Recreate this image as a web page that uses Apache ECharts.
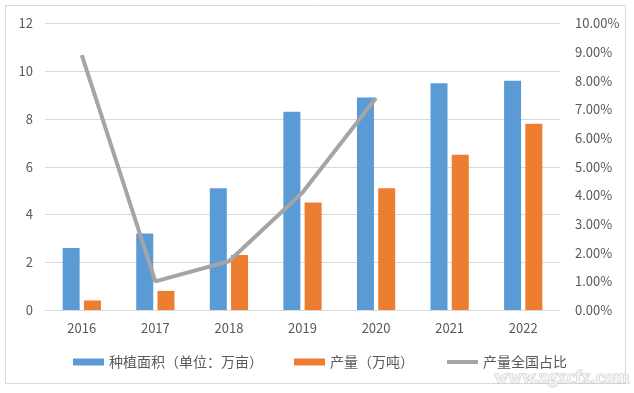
<!DOCTYPE html>
<html><head><meta charset="utf-8">
<script src="https://cdn.jsdelivr.net/npm/echarts@6/dist/echarts.min.js"></script>
<style>html,body{margin:0;padding:0;background:#fff}#c{width:634px;height:393px}</style>
</head><body><div id="c"></div>
<script>
var categories = ['2016','2017','2018','2019','2020','2021','2022'];
var areaValues = [2.6, 3.2, 5.1, 8.3, 8.9, 9.5, 9.6];
var outputValues = [0.4, 0.8, 2.3, 4.5, 5.1, 6.5, 7.8];
var shareValues = [8.9, 1.0, 1.7, 4.1, 7.4, null, null];
var seriesNames = ['种植面积（单位：万亩）', '产量（万吨）', '产量全国占比'];

var chart = echarts.init(document.getElementById('c'), null, {renderer:'canvas'});
var txt = '#595959';
var font = '"Microsoft YaHei","Noto Sans CJK SC",sans-serif';
chart.setOption({
  animation:false,
  textStyle:{fontFamily:font},
  graphic:[
    {type:'rect', shape:{x:5.5,y:5.5,width:620,height:378}, style:{fill:'none',stroke:'#d9d9d9',lineWidth:1}, silent:true},
    {type:'text', left:494, top:368, z:10, style:{text:'www.zgxcfx.com', fill:'#f4f4f4', stroke:'#c8c8c8', lineWidth:1, font:'bold 19px "Liberation Serif",serif'}}
  ],
  grid:{left:45, right:74, top:23.5, bottom:83},
  legend:{
    bottom:19, left:68,
    itemWidth:31, itemHeight:7, itemGap:31,
    textStyle:{color:txt, fontSize:14, fontFamily:font},
    data:[
      {name:seriesNames[0], icon:'rect'},
      {name:seriesNames[1], icon:'rect'},
      {name:seriesNames[2], itemStyle:{opacity:0}, lineStyle:{width:4, color:'#a5a5a5'}}
    ]
  },
  xAxis:{
    type:'category', data:categories,
    axisLine:{lineStyle:{color:'#d9d9d9'}},
    axisTick:{show:false},
    axisLabel:{color:txt, fontSize:13, margin:12}
  },
  yAxis:[
    {type:'value', min:0, max:12, interval:2,
     axisLine:{show:false}, axisTick:{show:false},
     axisLabel:{color:txt, fontSize:13, margin:12},
     splitLine:{lineStyle:{color:'#d9d9d9'}}},
    {type:'value', min:0, max:10, interval:1,
     axisLine:{show:false}, axisTick:{show:false},
     axisLabel:{color:txt, fontSize:13, margin:15, formatter:function(v){return v.toFixed(2)+'%';}},
     splitLine:{show:false}}
  ],
  series:[
    {name:seriesNames[0], type:'bar', data:areaValues, barWidth:17, barGap:'25%',
     itemStyle:{color:'#5b9bd5'}},
    {name:seriesNames[1], type:'bar', data:outputValues, barWidth:17,
     itemStyle:{color:'#ed7d31'}},
    {name:seriesNames[2], type:'line', yAxisIndex:1, data:shareValues,
     showSymbol:false, symbol:'none', connectNulls:false,
     lineStyle:{color:'#a5a5a5', width:4}, itemStyle:{color:'#a5a5a5'}}
  ]
});
</script></body></html>
